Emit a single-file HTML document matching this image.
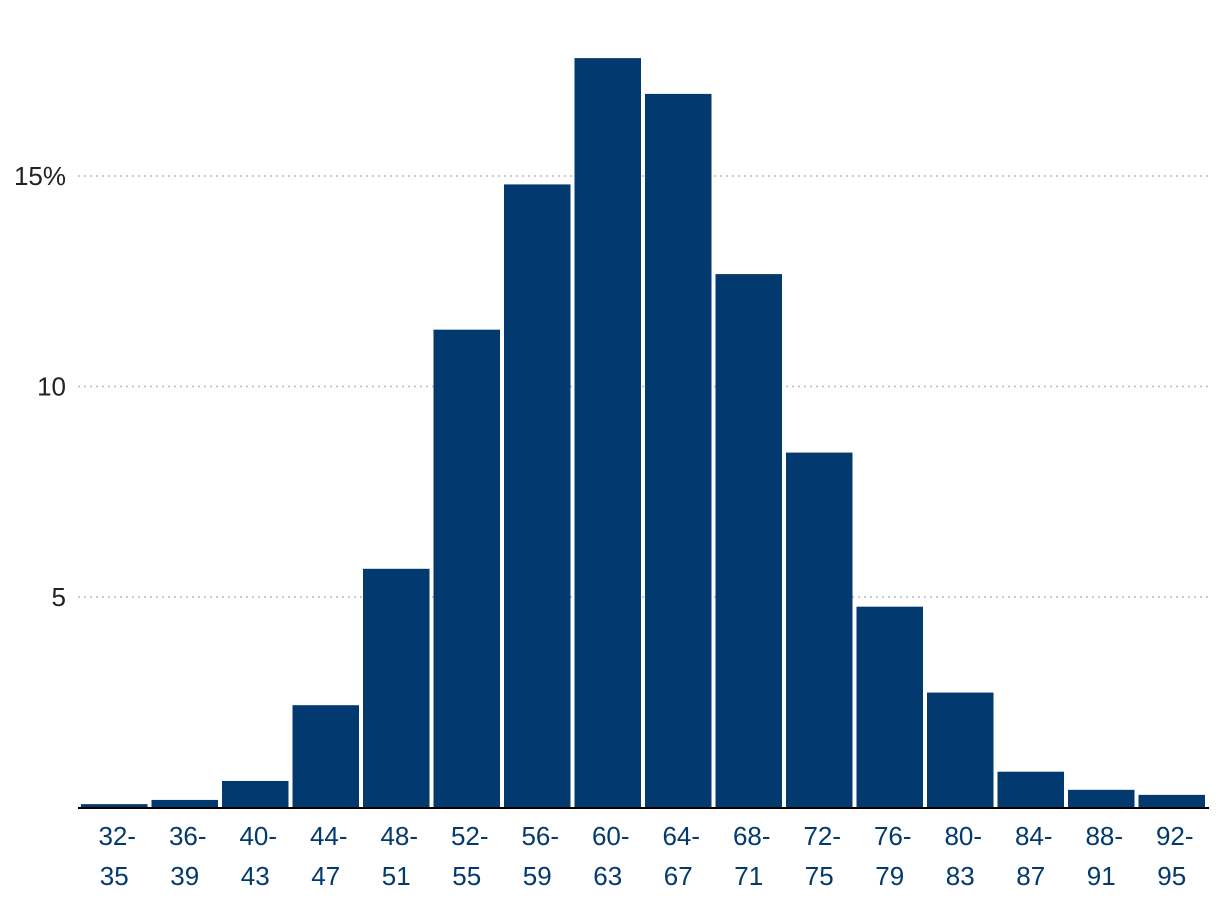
<!DOCTYPE html>
<html><head><meta charset="utf-8"><style>
html,body{margin:0;padding:0;background:#fff;}
svg{display:block;font-family:"Liberation Sans",sans-serif;}
</style></head><body>
<svg id="chart" width="1220" height="912"></svg>
<script>
const categories=["32-35","36-39","40-43","44-47","48-51","52-55","56-59","60-63","64-67","68-71","72-75","76-79","80-83","84-87","88-91","92-95"];
const values=[0.08,0.18,0.63,2.43,5.67,11.35,14.8,17.8,16.95,12.67,8.43,4.77,2.73,0.85,0.42,0.3];
const ticks=[5,10,15];
const tickLabels=["5","10","15%"];
const NS="http://www.w3.org/2000/svg";
const svg=document.getElementById("chart");
const x0=80,x1=1208,yBase=807.5,pxPer=42.1;
const y=v=>yBase-v*pxPer;
const step=(x1-x0)/categories.length;
const bx=i=>x0+i*step;
function mk(t,a){const e=document.createElementNS(NS,t);for(const k in a)e.setAttribute(k,a[k]);svg.appendChild(e);return e;}
ticks.forEach((t,i)=>{
 const g=mk("line",{x1:78,x2:1210,y1:y(t),y2:y(t),stroke:"#bbb","stroke-width":1.5,"stroke-dasharray":"2,4"});
 
 
 const l=mk("text",{x:66,y:y(t)+9,"text-anchor":"end","font-size":26,fill:"#222"});
 l.textContent=tickLabels[i];
 
 
});
values.forEach((v,i)=>{
 const r=mk("rect",{x:bx(i)+1,y:y(v),width:step-4,height:yBase-y(v),fill:"#023a6f"});
 
 
 const parts=categories[i].split("-");
 const cx=bx(i)+1+(step-4)/2;
 const t1=mk("text",{x:cx+3,y:845,"text-anchor":"middle","font-size":26,fill:"#023a6f"});
 t1.textContent=parts[0]+"-";
 
 
 const t2=mk("text",{x:cx,y:885,"text-anchor":"middle","font-size":26,fill:"#023a6f"});
 t2.textContent=parts[1];
 
 
});
const ax=mk("line",{x1:78,x2:1209,y1:808,y2:808,stroke:"#000","stroke-width":2});


</script>
</body></html>
